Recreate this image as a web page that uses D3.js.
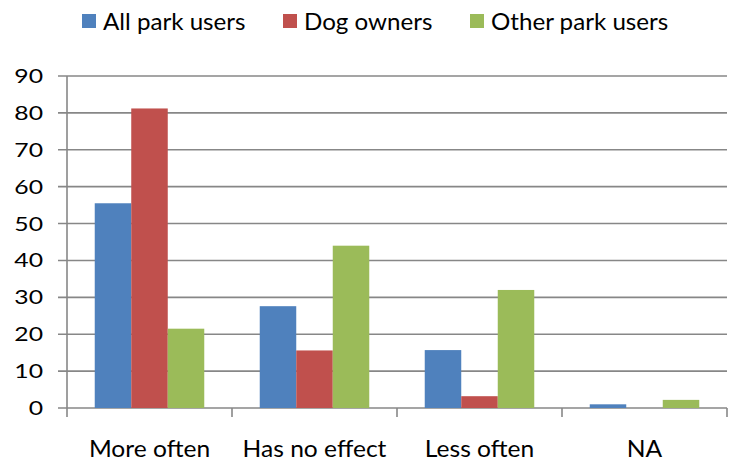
<!DOCTYPE html>
<html><head><meta charset="utf-8">
<script src="https://cdn.jsdelivr.net/npm/d3@7"></script>
<style>body{margin:0;background:#fff}svg text{font-family:Lato,"Open Sans",sans-serif;fill:#000}</style>
</head><body><svg id="c" width="735" height="462"></svg>
<script>
const categories = ["More often","Has no effect","Less often","NA"];
const seriesNames = ["All park users","Dog owners","Other park users"];
const allParkUsers = [55.5, 27.6, 15.7, 1.0];
const dogOwners = [81.2, 15.6, 3.2, 0];
const otherParkUsers = [21.5, 44.0, 32.0, 2.2];
const yTicks = [0,10,20,30,40,50,60,70,80,90];
const colors = ["#4F81BD","#C0504D","#9BBB59"];
const seriesValues = [allParkUsers, dogOwners, otherParkUsers];

(function(){
const svg = d3.select("#c");
const mL = 67, mR = 727, mT = 76, mB = 408;
const x = d3.scaleBand().domain(categories).range([mL, mR]).paddingInner(0).paddingOuter(0);
const inner = d3.scaleBand().domain(seriesNames).range([0, x.bandwidth()]).paddingOuter(0.76).paddingInner(0);
const y = d3.scaleLinear().domain([0, 90]).range([mB, mT]);
const gc = "#878787";

svg.append("g").selectAll("line").data(yTicks).join("line")
  .attr("x1", mL - 9).attr("x2", mR)
  .attr("y1", d => y(d)).attr("y2", d => y(d))
  .attr("stroke", gc).attr("stroke-width", 1.6);

svg.append("line").attr("x1", mL).attr("x2", mL).attr("y1", mT).attr("y2", mB + 9)
  .attr("stroke", gc).attr("stroke-width", 1.6);

svg.append("g").selectAll("line").data(categories).join("line")
  .attr("x1", d => x(d) + x.bandwidth()).attr("x2", d => x(d) + x.bandwidth())
  .attr("y1", mB).attr("y2", mB + 9)
  .attr("stroke", gc).attr("stroke-width", 1.6);

svg.append("g").selectAll("text").data(yTicks).join("text")
  .attr("transform", d => `translate(43,${y(d)}) scale(1.27,1)`)
  .attr("dy", "0.36em")
  .attr("text-anchor", "end").attr("font-size", 19.5).text(d => d);

seriesNames.forEach((s, si) => {
  svg.append("g").selectAll("rect").data(categories).join("rect")
    .attr("x", d => x(d) + inner(s))
    .attr("width", inner.bandwidth())
    .attr("y", (d, i) => y(seriesValues[si][i]))
    .attr("height", (d, i) => y(0) - y(seriesValues[si][i]))
    .attr("fill", colors[si]);
});

svg.append("g").selectAll("text").data(categories).join("text")
  .attr("transform", d => `translate(${x(d) + x.bandwidth() / 2},457) scale(1.07,1)`)
  .attr("text-anchor", "middle").attr("font-size", 23).text(d => d);

const legX = [82, 283, 470];
const lg = svg.append("g").selectAll("g").data(seriesNames).join("g")
  .attr("transform", (d, i) => `translate(${legX[i]},0)`);
lg.append("rect").attr("x", 0).attr("y", 14).attr("width", 14).attr("height", 14)
  .attr("fill", (d, i) => colors[i]);
lg.append("text").attr("transform", "translate(21,30) scale(1.05,1)")
  .attr("font-size", 23).text(d => d);
})();
</script></body></html>
